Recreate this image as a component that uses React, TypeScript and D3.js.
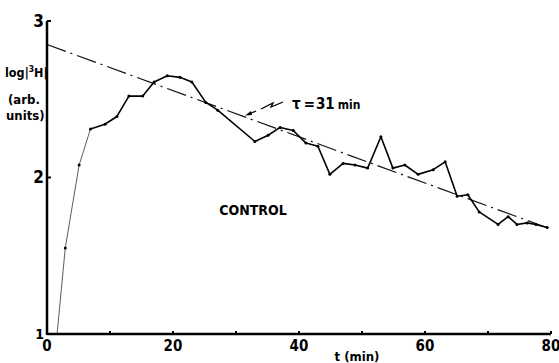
import React from 'react';
import * as d3 from 'd3';

// measured time points (min) and log activity
const times = [1.6, 2.9, 5.1, 6.9, 9.2, 11.1, 13, 15.2, 17, 19.1, 21.1, 23, 25.2, 27.1, 33, 35.1, 37, 39.1, 41.1, 43, 44.9, 47, 48.9, 50.9, 53, 54.9, 56.8, 58.9, 61.3, 63.2, 65.1, 66.8, 68.6, 71.6, 73.2, 74.6, 76.2, 77.6, 79.4];
const values = [1.0, 1.55, 2.08, 2.31, 2.34, 2.39, 2.52, 2.52, 2.61, 2.65, 2.64, 2.61, 2.48, 2.43, 2.23, 2.27, 2.32, 2.3, 2.22, 2.2, 2.02, 2.09, 2.08, 2.06, 2.26, 2.06, 2.08, 2.02, 2.05, 2.1, 1.88, 1.89, 1.78, 1.7, 1.75, 1.7, 1.71, 1.7, 1.68];

// exponential fit, tau = 31 min
const fitTimes = [0, 80];
const fitValues = [2.85, 1.67];

const xTicks = [0, 10, 20, 30, 40, 50, 60, 70, 80];
const xLabels = [0, 20, 40, 60, 80];
const yLabels = [1, 2, 3];

const W = 559;
const H = 363;
const FONT = '"DejaVu Sans Condensed", "Liberation Sans Narrow", "Liberation Sans", sans-serif';

export default function App() {
    const x = d3.scaleLinear().domain([0, 80]).range([47, 551]);
    const y = d3.scaleLinear().domain([1, 3]).range([334, 21]);

    const pts: [number, number][] = times.map((t, i) => [t, values[i]]);
    const line = d3.line<[number, number]>()
        .x(d => x(d[0]))
        .y(d => y(d[1]));

    // first rise is drawn faint in the original
    const faint = pts.slice(0, 4);
    const main = pts.slice(3);

    const fitPts: [number, number][] = fitTimes.map((t, i) => [t, fitValues[i]]);

    return (
        <svg width={W} height={H} style={{ position: 'absolute', left: 0, top: 0, background: '#fff' }}
            fontFamily={FONT} fontWeight="bold">
            {/* fit line */}
            <path d={line(fitPts) || ''} fill="none" stroke="#111" strokeWidth={1.2}
                strokeDasharray="20,5,2,5" />

            {/* data */}
            <path d={line(faint) || ''} fill="none" stroke="#333" strokeWidth={0.8} />
            <path d={line(main) || ''} fill="none" stroke="#000" strokeWidth={1.6} strokeLinejoin="round" />
            {pts.slice(1).map((d, i) => (
                <circle key={i} cx={x(d[0])} cy={y(d[1])} r={1.5} fill="#000" />
            ))}

            {/* axes */}
            <line x1={x(0)} x2={x(0)} y1={y(3)} y2={y(1) + 1} stroke="#000" strokeWidth={2.5} />
            <line x1={x(0)} x2={x(80)} y1={y(1)} y2={y(1)} stroke="#000" strokeWidth={2.5} />
            {yLabels.slice(1).map(v => (
                <line key={v} x1={x(0)} x2={x(0) + 4} y1={y(v)} y2={y(v)} stroke="#000" strokeWidth={2} />
            ))}
            {xTicks.slice(1).map(t => (
                <line key={t} x1={x(t)} x2={x(t)} y1={y(1)} y2={y(1) - 3} stroke="#000" strokeWidth={2} />
            ))}

            {yLabels.map(v => (
                <text key={v} x={x(0) - 3} y={y(v)} dy="0.35em" textAnchor="end"
                    fontSize={v === 1 ? 14 : 17}>{v}</text>
            ))}
            {xLabels.map(t => (
                <text key={t} x={x(t)} y={351} textAnchor="middle" fontSize={15}>{t}</text>
            ))}
            <text x={357} y={361} textAnchor="middle" fontSize={13}>t (min)</text>

            {/* y label */}
            <text x={5} y={77} fontSize={12.5}>
                log|<tspan fontSize={8.5} dy={-5}>3</tspan><tspan dy={5}>H|</tspan>
            </text>
            <text x={8} y={104} fontSize={13}>(arb.</text>
            <text x={6} y={120} fontSize={13}>units)</text>

            <text x={253} y={215} textAnchor="middle" fontSize={14}>CONTROL</text>

            {/* tau annotation */}
            <path d="M283,102 L271,107 L273,103 L261,109" fill="none" stroke="#000" strokeWidth={1.3} />
            <path d="M256,111 L250,113.5" fill="none" stroke="#000" strokeWidth={1.3} />
            <path d="M245,115.5 L251,111 L252,115 Z" fill="#000" />
            <text x={292} y={109} fontSize={15}>τ<tspan dx={3}>=</tspan><tspan dx={1}>31</tspan><tspan fontSize={12} dx={3}>min</tspan></text>
        </svg>
    );
}
